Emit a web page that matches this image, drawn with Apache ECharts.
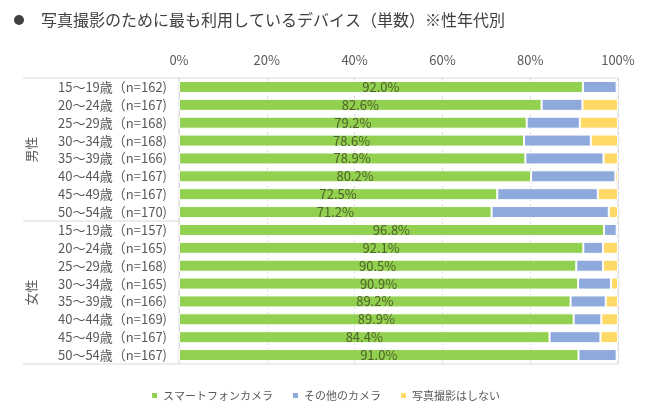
<!DOCTYPE html>
<html><head><meta charset="utf-8">
<script src="https://cdn.jsdelivr.net/npm/echarts@6/dist/echarts.min.js"></script>
<style>html,body{margin:0;padding:0;background:#fff}#c{width:650px;height:413px}</style>
</head><body><div id="c"></div>
<script>
const title = '写真撮影のために最も利用しているデバイス（単数）※性年代別';
const groups = ['男性', '女性'];
const ages = ['15～19歳','20～24歳','25～29歳','30～34歳','35～39歳','40～44歳','45～49歳','50～54歳',
              '15～19歳','20～24歳','25～29歳','30～34歳','35～39歳','40～44歳','45～49歳','50～54歳'];
const nCounts = [162,167,168,168,166,167,167,170, 157,165,168,165,166,169,167,167];
const seriesNames = ['スマートフォンカメラ','その他のカメラ','写真撮影はしない'];
const smartphone = [92.0,82.6,79.2,78.6,78.9,80.2,72.5,71.2, 96.8,92.1,90.5,90.9,89.2,89.9,84.4,91.0];
const otherCamera = [7.7,9.3,12.1,15.2,17.8,19.2,22.9,26.7, 2.9,4.5,6.1,7.5,8.0,6.3,11.6,8.7];
const noPhoto = [0.3,8.1,8.7,6.2,3.3,0.6,4.6,2.1, 0.3,3.4,3.4,1.6,2.8,3.8,4.0,0.3];
const xTicks = [0,20,40,60,80,100];

const categories = ages.map((a,i)=> a + '（n=' + nCounts[i] + ')');
const font = '"Noto Sans CJK JP", "Noto Sans", sans-serif';
const colors = ['#92D050','#8EA9DB','#FFD966'];

const chart = echarts.init(document.getElementById('c'));
const option = {
  animation:false,
  textStyle:{fontFamily:font},
  grid:{left:179, right:32, top:78, bottom:49, show:true, borderColor:'#d9d9d9', borderWidth:1},
  legend:{bottom:7, left:'center', itemWidth:7, itemHeight:7, itemGap:18, icon:'rect',
    textStyle:{fontSize:11, color:'#595959', fontFamily:font}, data:seriesNames},
  xAxis:{type:'value', position:'top', min:xTicks[0], max:xTicks[xTicks.length-1], interval:20,
    axisLabel:{formatter:'{value}%', fontSize:13, color:'#595959', margin:11},
    axisLine:{show:false}, axisTick:{show:false},
    splitLine:{show:true, lineStyle:{color:'#d9d9d9', type:[3,3]}}},
  yAxis:{type:'category', inverse:true, data:categories,
    axisLabel:{fontSize:13, color:'#595959', margin:12},
    axisLine:{show:true, lineStyle:{color:'#d9d9d9'}}, axisTick:{show:false}},
  series:[
    {name:seriesNames[0], type:'bar', stack:'s', data:smartphone, barWidth:12,
     itemStyle:{color:colors[0], borderColor:'#fff', borderWidth:1},
     label:{show:true, position:'inside', formatter:p=>p.value.toFixed(1)+'%', fontSize:13, color:'#4f6228'}},
    {name:seriesNames[1], type:'bar', stack:'s', data:otherCamera, barWidth:12,
     itemStyle:{color:colors[1], borderColor:'#fff', borderWidth:1}},
    {name:seriesNames[2], type:'bar', stack:'s', data:noPhoto, barWidth:12,
     itemStyle:{color:colors[2], borderColor:'#fff', borderWidth:1}}
  ]
};
chart.setOption(option);

// table decoration: group lines and group labels, positioned from the axes
const gridRect = chart.getModel().getComponent('grid').coordinateSystem.getRect();
const yTop = gridRect.y, yBot = gridRect.y + gridRect.height;
const band = gridRect.height / categories.length;
const yMid = yTop + band * 8;
const lineStyle = {stroke:'#d9d9d9', lineWidth:1};
const leftX = 23;
option.graphic = [
  {type:'line', shape:{x1:leftX, y1:yTop, x2:gridRect.x, y2:yTop}, style:lineStyle},
  {type:'line', shape:{x1:leftX, y1:yMid, x2:gridRect.x, y2:yMid}, style:lineStyle},
  {type:'line', shape:{x1:leftX, y1:yBot, x2:gridRect.x, y2:yBot}, style:lineStyle},
  {type:'text', x:31, y:(yTop+yMid)/2, rotation:Math.PI/2,
    style:{text:groups[0], fill:'#595959', font:'13px '+font, textAlign:'center', textVerticalAlign:'middle'}},
  {type:'text', x:31, y:(yMid+yBot)/2, rotation:Math.PI/2,
    style:{text:groups[1], fill:'#595959', font:'13px '+font, textAlign:'center', textVerticalAlign:'middle'}},
  {type:'circle', shape:{cx:19, cy:20, r:5}, style:{fill:'#404040'}},
  {type:'text', x:41, y:20, style:{text:title, fill:'#404040', font:'16px '+font, textVerticalAlign:'middle'}}
];
chart.setOption(option);
</script>
</body></html>
